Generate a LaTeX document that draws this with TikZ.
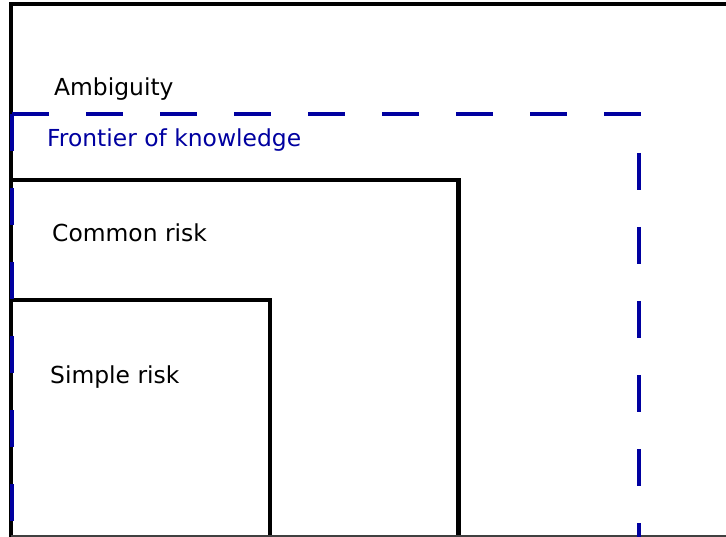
\documentclass[tikz,border=0pt]{standalone}
\usepackage{fontspec}
\setmainfont{DejaVu Sans}

\definecolor{knowblue}{RGB}{0,0,160}

\begin{document}
\begin{tikzpicture}[x=1pt, y=-1pt,
  region/.style={line width=4.2pt},
  frontier/.style={line width=4.2pt, knowblue, dash pattern=on 37pt off 37pt},
  label/.style={anchor=base west, inner sep=0pt, font=\fontsize{23.4}{28}\selectfont}]

\useasboundingbox (0,0) rectangle (726,537);

% nested risk regions
\draw[region] (11,539) -- (11,4) -- (730,4);
\draw[region] (11,180) -- (458.5,180) -- (458.5,539);
\draw[region] (11,300) -- (270,300) -- (270,539);
\draw[line width=1.6pt, black!75] (11,536.2) -- (730,536.2);

% frontier of knowledge
\coordinate (corner) at (12,114);
\draw[frontier] (corner) -- (639,114) -- (639,539);
\draw[frontier] (corner) -- (12,539);

% labels
\node[label] (amb) at (54,96) {Ambiguity};
\node[label, knowblue] (front) at (47,147) {Frontier of knowledge};
\node[label] (common) at (52,242) {Common risk};
\node[label] (simple) at (50,384) {Simple risk};

\end{tikzpicture}
\end{document}
